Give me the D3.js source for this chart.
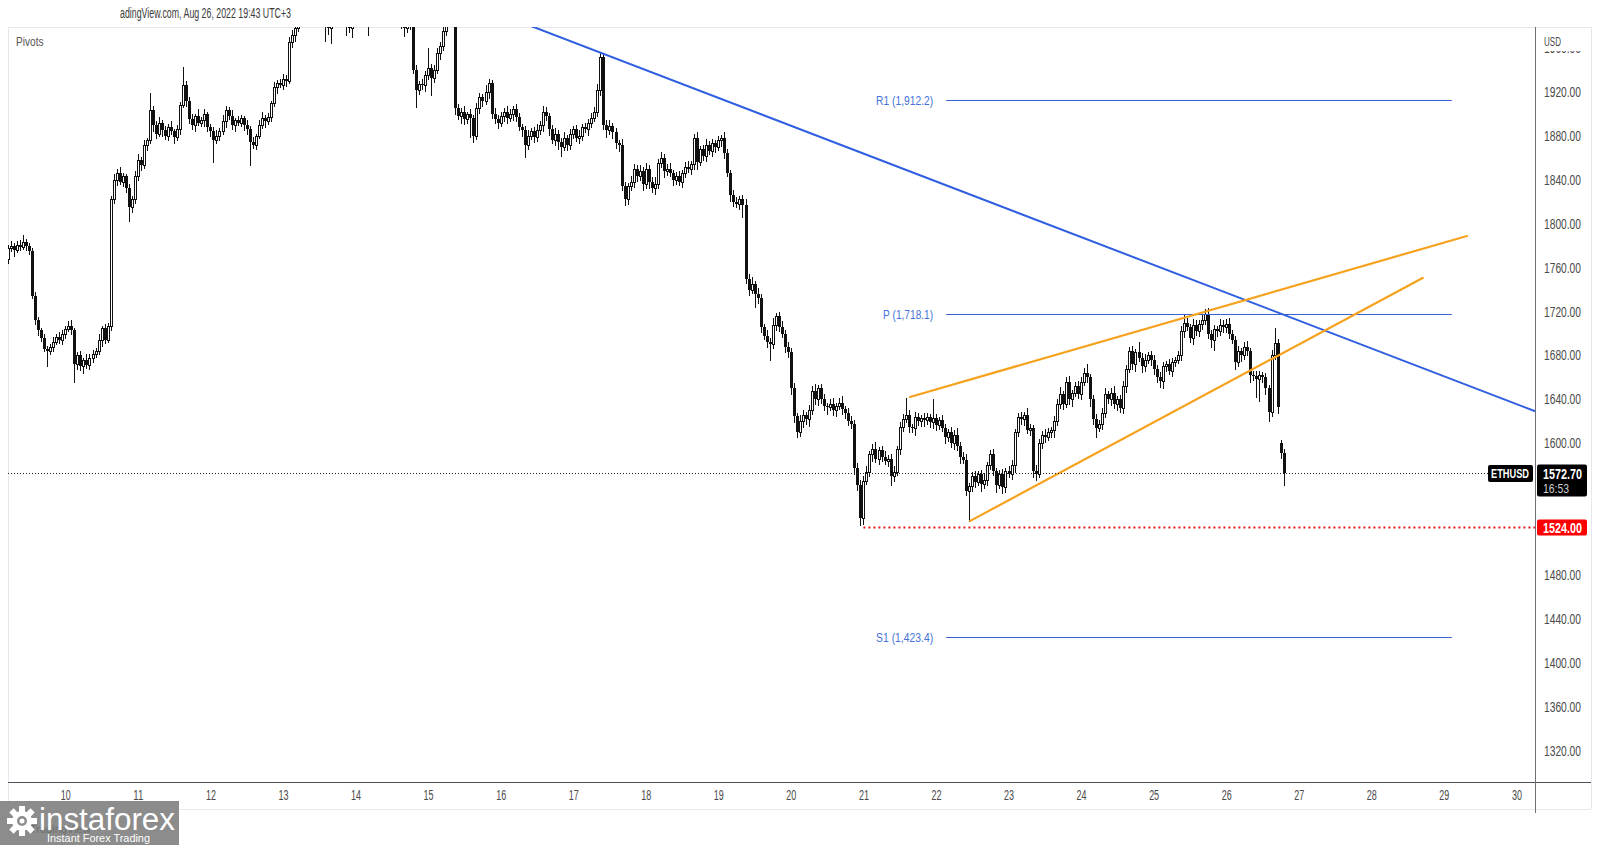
<!DOCTYPE html>
<html><head><meta charset="utf-8">
<script src="https://cdn.jsdelivr.net/npm/d3@7"></script>
<style>
html,body{margin:0;padding:0;background:#fff;}
svg{display:block;font-family:"Liberation Sans","DejaVu Sans",sans-serif;}
</style></head><body>
<svg id="c" width="1600" height="845"></svg>
<script>
// ---------- DATA ----------
const startTime = Date.UTC(2022, 7, 9, 5); // first hourly bar: Aug 9 05:00
const firstOpen = 1768;
const closes = [
1778,1780,1776,1781,1779,1783,1780,1775,1734,1712,1703,1696,1686,1684,1688,1692,1697,1694,1700,
1704,1707,1703,1672,1680,1670,1676,1671,1678,1681,1684,1694,1705,1694,1707,1822,1840,1846,1838,1843,1832,1815,1822,1843,
1858,1853,1872,1876,1903,1890,1882,1892,1885,1880,1888,1884,1879,1886,1908,1926,1912,1895,1890,1898,1892,1894,1900,1888,
1884,1876,1880,1884,1893,1903,1898,1890,1894,1892,1896,1890,1886,1874,1872,1880,1890,1896,1893,1897,1910,1924,1928,1926,
1932,1930,1965,1972,1978,1990,1996,2004,2000,2008,2003,1998,2005,2000,1985,1978,1985,1992,1996,2001,1997,1983,1978,1986,
1993,1998,2002,1996,1985,1992,2000,2006,2012,2008,2015,2010,2004,1998,1990,1982,1978,1984,1982,1940,1922,1927,1926,1935,
1942,1933,1940,1955,1962,1975,1990,1998,1985,1905,1898,1902,1895,1900,1896,1880,1905,1915,1912,1920,1928,1900,1895,1892,
1898,1902,1896,1900,1904,1897,1888,1885,1872,1880,1884,1879,1885,1890,1902,1898,1886,1876,1882,1874,1870,1878,1872,1882,
1886,1878,1880,1888,1886,1892,1896,1902,1922,1952,1890,1885,1889,1883,1873,1872,1834,1822,1834,1838,1850,1843,1848,1836,
1850,1838,1832,1836,1855,1860,1848,1850,1846,1840,1843,1838,1846,1852,1850,1854,1878,1856,1868,1862,1872,1866,1873,1870,
1876,1878,1864,1846,1826,1820,1818,1822,1817,1750,1740,1745,1736,1732,1706,1698,1692,1690,1708,1716,1706,1700,1688,1683,
1650,1625,1610,1620,1626,1622,1630,1648,1640,1650,1640,1634,1633,1636,1630,1634,1637,1631,1628,1620,1618,1578,1562,1532,
1566,1574,1590,1595,1586,1594,1588,1584,1586,1570,1574,1595,1615,1622,1626,1615,1614,1624,1620,1623,1621,1624,1619,1623,
1617,1621,1614,1606,1610,1600,1608,1598,1588,1585,1557,1561,1570,1565,1572,1563,1567,1580,1590,1575,1562,1572,1560,1575,
1572,1580,1610,1624,1622,1626,1612,1614,1575,1572,1600,1608,1606,1610,1612,1620,1636,1645,1636,1656,1640,1646,1652,1645,
1656,1664,1660,1640,1622,1614,1618,1628,1645,1640,1646,1636,1640,1632,1652,1668,1684,1672,1683,1678,1670,1676,1680,1676,
1668,1660,1657,1670,1672,1666,1674,1676,1680,1702,1710,1706,1696,1708,1702,1709,1712,1718,1700,1694,1704,1702,1708,1706,
1709,1700,1694,1674,1684,1680,1688,1684,1662,1661,1659,1662,1660,1650,1629,1680,1691,1633,1591,1572.7
];
const upperWick = [
3,4,2,3,4,7,3,2,3,4,3,2,4,3,2,5,3,4,3,
3,4,5,2,3,4,2,5,3,4,3,6,2,4,3,3,5,4,6,3,2,4,3,5,
5,3,4,2,16,4,3,5,2,4,3,5,2,4,3,17,4,3,5,2,6,3,4,2,
3,4,5,3,6,4,3,5,2,4,3,2,4,3,5,2,4,6,3,4,2,5,3,4,
4,3,5,4,3,6,4,3,5,4,6,3,4,5,3,4,3,5,4,3,6,4,3,4,
4,5,3,6,4,5,3,6,4,5,3,4,6,3,5,6,4,5,3,15,4,3,5,4,
18,3,4,5,3,4,6,5,4,3,4,3,5,2,4,3,5,4,3,6,4,3,5,4,
4,3,5,4,3,5,4,3,4,5,3,4,6,3,5,4,3,4,5,3,4,5,3,4,
3,4,5,3,4,3,5,4,5,4,3,4,5,3,4,3,5,4,3,5,4,3,5,4,
5,3,4,6,4,5,3,4,5,3,4,5,3,4,5,3,4,5,3,4,5,3,4,3,
4,3,5,4,3,5,4,3,4,5,4,6,3,5,4,3,5,4,6,3,4,5,3,4,
4,5,3,6,4,3,5,4,6,3,4,5,3,4,5,3,4,6,3,4,5,3,4,5,
4,5,3,4,6,3,4,5,3,4,5,3,4,5,15,4,3,5,4,3,5,4,3,17,
4,3,5,4,3,5,4,6,3,4,5,3,4,5,3,4,6,3,4,5,3,4,5,3,
4,5,3,4,5,3,6,4,3,5,4,3,5,4,3,5,4,6,3,4,5,3,4,5,
4,5,8,3,4,5,3,4,5,3,4,6,3,4,5,3,4,5,3,9,4,5,3,4,
4,3,5,4,3,5,4,3,4,5,8,4,3,5,4,3,6,4,5,3,4,3,5,4,
4,5,3,4,5,3,4,5,3,4,5,4,3,4,3,5,14,4,3,4
];
const lowerWick = [
4,3,5,2,3,2,4,3,2,3,4,3,2,14,3,4,2,3,4,
4,2,3,16,4,3,6,2,3,4,2,3,5,3,2,4,3,5,2,4,3,13,4,3,
3,4,2,5,3,6,4,2,5,3,4,2,6,3,4,2,5,3,4,6,2,3,5,4,
4,20,3,4,2,5,3,4,6,2,3,5,4,21,3,4,2,3,5,2,4,3,5,2,
3,5,2,4,6,3,5,4,3,6,4,5,3,4,19,5,14,4,6,3,5,11,4,8,
5,4,6,3,13,4,5,3,6,4,5,3,4,6,5,4,7,4,5,3,16,4,3,5,
3,16,4,3,5,4,3,6,4,5,3,6,4,3,17,6,3,4,5,3,6,4,3,5,
3,5,4,3,6,4,3,5,11,4,3,5,4,3,6,4,5,3,4,6,8,3,5,4,
4,3,5,4,3,5,4,3,4,5,4,6,3,5,4,6,3,5,4,3,5,4,3,5,
4,6,3,5,4,3,6,4,3,5,4,3,5,4,3,5,4,6,3,4,5,3,4,5,
3,5,4,3,5,4,3,5,11,4,5,3,12,4,5,3,4,14,3,5,4,3,5,4,
5,6,4,3,5,4,6,3,4,5,3,4,6,3,4,5,3,4,5,3,4,6,4,6,
5,3,4,6,3,5,4,3,5,8,4,3,5,4,3,5,4,6,3,4,5,3,4,5,
5,4,3,6,4,3,5,4,6,3,4,28,4,5,3,6,4,5,3,4,6,3,5,4,
3,4,6,3,4,5,3,4,6,5,3,4,5,3,4,6,3,4,5,3,4,6,3,4,
5,3,4,6,4,8,3,5,4,3,5,4,6,3,4,5,3,4,6,3,5,4,3,5,
5,4,6,7,4,3,5,4,3,4,5,3,4,6,3,4,5,3,4,6,9,4,3,5,
5,4,3,6,4,5,3,4,6,3,17,20,4,5,9,4,3,5,4,11
];
const gapOpens = {421: 1600};
const priceTicks = [1320,1360,1400,1440,1480,1600,1640,1680,1720,1760,1800,1840,1880,1920,1960];
const dayTicks = [10,11,12,13,14,15,16,17,18,19,20,21,22,23,24,25,26,27,28,29,30];
const pivotLabels = ["R1","P","S1"];
const pivotValues = [1912.2, 1718.1, 1423.4];
const pivotSpan = [22.14, 29.11];            // days of August
const blueTrend = [[17.40, 1955.0], [30.26, 1629.2]];
const wedgeUpper = [[21.63, 1642.0], [29.33, 1789.0]];
const wedgeLower = [[22.46, 1529.0], [28.72, 1751.0]];
const supportStart = 21.0, supportValue = 1524;
const lastPrice = 1572.7, symbol = "ETHUSD", countdown = "16:53";
const headerText = "adingView.com, Aug 26, 2022 19:43 UTC+3";

// ---------- LAYOUT ----------
const L = 8, T = 27, R = 1535.5, B = 782, AX = 1591;
const svg = d3.select("#c");
const fit = (sel, w) => sel.attr("textLength", w).attr("lengthAdjust", "spacingAndGlyphs");
const dayDate = d => new Date(Date.UTC(2022, 7, 1) + (d - 1) * 864e5);
const x = d3.scaleUtc().domain([dayDate(10), dayDate(30)]).range([65.3, 1516.4]);
const y = d3.scaleLinear().domain([1320, 1920]).range([751.0, 91.8]);
const xd = d => x(dayDate(d));

svg.append("rect").attr("width",1600).attr("height",845).attr("fill","#fff");
svg.append("defs").append("clipPath").attr("id","plot")
  .append("rect").attr("x",L).attr("y",T).attr("width",R-L).attr("height",B-T);

// frame
svg.append("line").attr("x1",L).attr("x2",AX).attr("y1",T+0.5).attr("y2",T+0.5).attr("stroke","#e6e8ee");
svg.append("line").attr("x1",L+0.5).attr("x2",L+0.5).attr("y1",T).attr("y2",809).attr("stroke","#e6e8ee");
svg.append("line").attr("x1",AX+0.5).attr("x2",AX+0.5).attr("y1",T).attr("y2",809).attr("stroke","#e6e8ee");
svg.append("line").attr("x1",L).attr("x2",AX).attr("y1",809.5).attr("y2",809.5).attr("stroke","#e6e8ee");

// header
fit(svg.append("text").attr("x",120).attr("y",18).attr("font-size",14).attr("fill","#3b3b3b").text(headerText), 171);
fit(svg.append("text").attr("x",16).attr("y",46).attr("font-size",13).attr("fill","#555").text("Pivots"), 27.5);

const plot = svg.append("g").attr("clip-path","url(#plot)");

// candles
const bars = closes.map((c, i) => {
  const open = gapOpens[i] !== undefined ? gapOpens[i] : (i === 0 ? firstOpen : closes[i-1]);
  return {t: new Date(startTime + i*36e5), open, close: c,
          hi: Math.max(open, c) + upperWick[i], lo: Math.min(open, c) - lowerWick[i]};
});
const cg = plot.append("g");
bars.forEach(b => {
  const r = Math.round(x(b.t));
  cg.append("line").attr("x1",r+0.5).attr("x2",r+0.5)
    .attr("y1",Math.round(y(b.hi))).attr("y2",Math.round(y(b.lo))+1).attr("stroke","#111");
  const yt = Math.round(y(Math.max(b.open,b.close))), yb = Math.round(y(Math.min(b.open,b.close)));
  if (b.close >= b.open) {
    cg.append("rect").attr("x",r-0.5).attr("y",yt+0.5).attr("width",2).attr("height",Math.max(yb-yt,1))
      .attr("fill","#fff").attr("stroke","#111").attr("stroke-width",1);
  } else {
    cg.append("rect").attr("x",r-1).attr("y",yt).attr("width",3).attr("height",Math.max(yb-yt,1)).attr("fill","#111");
  }
});

// pivot levels
pivotValues.forEach((v, k) => {
  const yy = Math.round(y(v)) + 0.5;
  plot.append("line").attr("x1",xd(pivotSpan[0])).attr("x2",xd(pivotSpan[1]))
    .attr("y1",yy).attr("y2",yy).attr("stroke","#3a62d4").attr("stroke-width",1);
  const lbl = `${pivotLabels[k]} (${d3.format(",.1f")(v)})`;
  fit(plot.append("text").attr("x",xd(pivotSpan[0]) - 13).attr("y",yy).attr("dy","0.35em")
    .attr("text-anchor","end").attr("font-size",13.5).attr("fill","#4571d8").text(lbl),
    pivotLabels[k].length === 1 ? 50 : 57);
});

// trend lines
const line = d3.line().x(p => xd(p[0])).y(p => y(p[1]));
const slope = (blueTrend[1][1]-blueTrend[0][1])/(blueTrend[1][0]-blueTrend[0][0]);
const blueExt = [[15, blueTrend[0][1] + slope*(15-blueTrend[0][0])], blueTrend[1]];
plot.append("path").attr("d",line(blueExt)).attr("stroke","#2f5fe0").attr("stroke-width",2).attr("fill","none");
plot.append("path").attr("d",line(wedgeUpper)).attr("stroke","#f6a21e").attr("stroke-width",2.2).attr("fill","none");
plot.append("path").attr("d",line(wedgeLower)).attr("stroke","#f6a21e").attr("stroke-width",2.2).attr("fill","none");

// last price dotted line
const yl = Math.round(y(lastPrice)) + 0.5;
plot.append("line").attr("x1",L).attr("x2",R).attr("y1",yl).attr("y2",yl)
  .attr("stroke","#222").attr("stroke-width",1).attr("stroke-dasharray","1 2");
// support dotted line
const ys = Math.round(y(supportValue)) + 0.5;
plot.append("line").attr("x1",xd(supportStart)).attr("x2",R).attr("y1",ys).attr("y2",ys)
  .attr("stroke","#e8161b").attr("stroke-width",2).attr("stroke-dasharray","2 3");

// axes frame lines
svg.append("line").attr("x1",L).attr("x2",AX).attr("y1",B+0.5).attr("y2",B+0.5).attr("stroke","#4e5058");
svg.append("line").attr("x1",R).attr("x2",R).attr("y1",T).attr("y2",813).attr("stroke","#6e7078");

// price axis
const yAxis = d3.axisRight(y).tickValues(priceTicks).tickSize(0).tickPadding(0).tickFormat(d3.format(".2f"));
const ya = svg.append("g").attr("transform",`translate(1544,0)`).call(yAxis);
ya.select(".domain").remove();
fit(ya.selectAll("text").attr("font-size",14).attr("fill","#4a4a4a").attr("font-family",null), 37);
svg.append("rect").attr("x",R+1).attr("y",T+1).attr("width",AX-R-1.5).attr("height",23).attr("fill","#fff");
fit(svg.append("text").attr("x",1544).attr("y",46).attr("font-size",13).attr("fill","#4a4a4a").text("USD"), 17);

// date axis
const xAxis = d3.axisBottom(x).tickValues(dayTicks.map(dayDate)).tickSize(0).tickPadding(0)
  .tickFormat(d3.utcFormat("%-d"));
const xa = svg.append("g").attr("transform",`translate(0,${B+8})`).call(xAxis);
xa.select(".domain").remove();
fit(xa.selectAll("text").attr("font-size",14).attr("fill","#4a4a4a").attr("font-family",null), 10);

// symbol label
svg.append("rect").attr("x",1488).attr("y",yl-8.5).attr("width",45).attr("height",17).attr("rx",2).attr("fill","#000");
fit(svg.append("text").attr("x",1491).attr("y",yl).attr("dy","0.36em")
  .attr("font-size",13.5).attr("font-weight","bold").attr("fill","#fff").text(symbol), 38);
// last price box
svg.append("rect").attr("x",1537).attr("y",yl-9).attr("width",50).attr("height",32).attr("rx",2).attr("fill","#000");
fit(svg.append("text").attr("x",1543).attr("y",yl).attr("dy","0.36em").attr("font-size",14).attr("font-weight","bold")
  .attr("fill","#fff").text(d3.format(".2f")(lastPrice)), 39);
fit(svg.append("text").attr("x",1543).attr("y",yl+15).attr("dy","0.36em").attr("font-size",13.5)
  .attr("fill","#d0d0d0").text(countdown), 26);
// support box
svg.append("rect").attr("x",1537).attr("y",ys-8).attr("width",50).attr("height",16).attr("rx",2).attr("fill","#ff0000");
fit(svg.append("text").attr("x",1543).attr("y",ys).attr("dy","0.36em").attr("font-size",14).attr("font-weight","bold")
  .attr("fill","#fff").text(d3.format(".2f")(supportValue)), 39);

// instaforex badge
const lg = svg.append("g");
lg.append("rect").attr("x",0).attr("y",801).attr("width",179).attr("height",44).attr("fill","#8c8c8c");
lg.append("text").attr("x",30).attr("y",833).attr("font-size",11).attr("fill","#707070").text("TradingView");
const gear = lg.append("g").attr("transform","translate(22,821)");
for (let k = 0; k < 8; k++) {
  gear.append("rect").attr("x",-3).attr("y",-15).attr("width",6).attr("height",8)
    .attr("fill","#fff").attr("transform",`rotate(${k*45})`);
}
gear.append("circle").attr("r",10).attr("fill","#fff");
gear.append("circle").attr("r",5).attr("fill","#8c8c8c");
gear.append("circle").attr("r",2.5).attr("fill","#fff");
fit(lg.append("text").attr("x",39).attr("y",830).attr("font-size",31).attr("fill","#fff").text("instaforex"), 136);
fit(lg.append("text").attr("x",47).attr("y",842).attr("font-size",11).attr("fill","#fff").text("Instant Forex Trading"), 103);
</script>
</body></html>
